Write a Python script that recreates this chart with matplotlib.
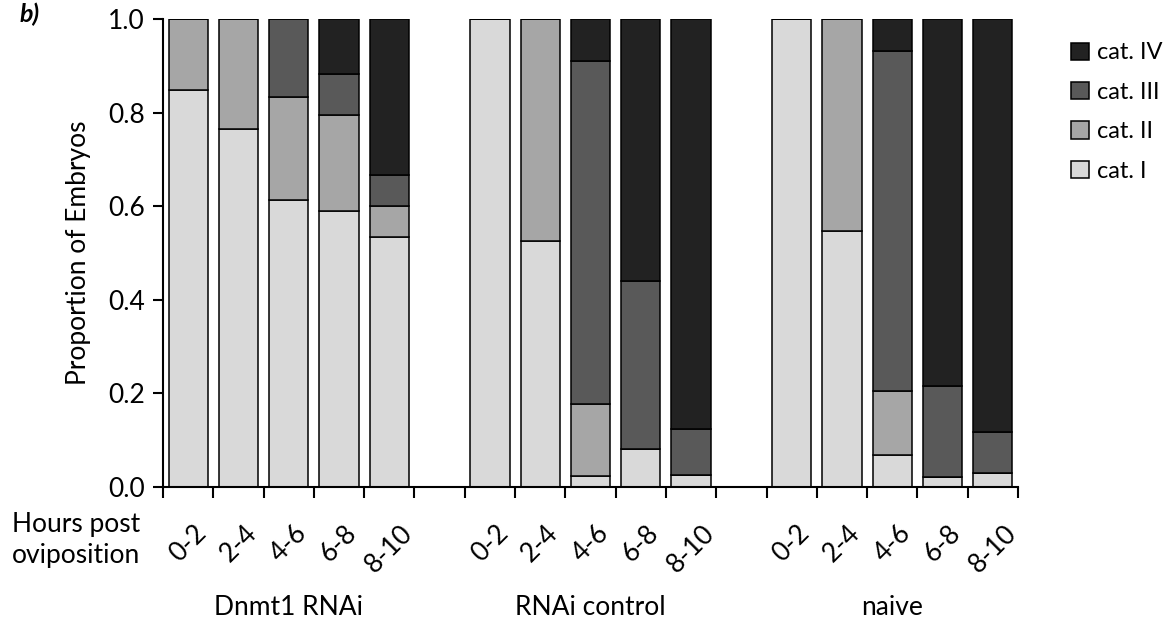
import matplotlib.pyplot as plt
import matplotlib.transforms as mtransforms
import numpy as np

plt.rcParams['font.family'] = ['Lato', 'DejaVu Sans']

groups = ["Dnmt1 RNAi", "RNAi control", "naive"]
hours = ["0-2", "2-4", "4-6", "6-8", "8-10"]
categories = ["cat. I", "cat. II", "cat. III", "cat. IV"]
colors = ["#d9d9d9", "#a6a6a6", "#595959", "#222222"]

# proportions per bar (groups x hours), one array per category
cat1 = [0.848, 0.765, 0.613, 0.590, 0.534,
        1.000, 0.526, 0.024, 0.081, 0.026,
        1.000, 0.548, 0.068, 0.021, 0.030]
cat2 = [0.152, 0.235, 0.220, 0.205, 0.066,
        0.000, 0.474, 0.153, 0.000, 0.000,
        0.000, 0.452, 0.137, 0.000, 0.000]
cat3 = [0.000, 0.000, 0.167, 0.087, 0.067,
        0.000, 0.000, 0.734, 0.359, 0.099,
        0.000, 0.000, 0.727, 0.195, 0.088]
cat4 = [0.000, 0.000, 0.000, 0.118, 0.333,
        0.000, 0.000, 0.089, 0.560, 0.875,
        0.000, 0.000, 0.068, 0.784, 0.882]

values = np.array([cat1, cat2, cat3, cat4])
fs = 19

# bar slots: 5 bars, 1 empty slot, 5 bars, ...
slots = np.array([g * 6 + i for g in range(len(groups)) for i in range(len(hours))])
xpos = slots + 0.5

fig = plt.figure(figsize=(11.73, 6.29), dpi=100)
ax = fig.add_axes([163 / 1173, 1 - 487 / 629, 855 / 1173, 468 / 629])

bottom = np.zeros(len(xpos))
handles = []
for vals, col, lab in zip(values, colors, categories):
    b = ax.bar(xpos, vals, width=0.78, bottom=bottom, color=col,
               edgecolor="black", linewidth=1.1, label=lab)
    handles.append(b)
    bottom += vals

ax.set_xlim(0, 17)
ax.set_ylim(0, 1.0)
ax.spines["top"].set_visible(False)
ax.spines["right"].set_visible(False)
ax.spines["left"].set_linewidth(1.5)
ax.spines["bottom"].set_linewidth(1.5)

ax.set_yticks(np.arange(0, 1.01, 0.2))
ax.set_yticklabels(["%.1f" % v for v in np.arange(0, 1.01, 0.2)], fontsize=fs)
ax.tick_params(axis="y", direction="out", length=7, width=1.5, pad=6)

# major ticks at slot boundaries, labels on minor ticks at bar centres
ax.set_xticks(np.arange(0, 18))
ax.set_xticklabels([])
ax.tick_params(axis="x", which="major", direction="out", length=8, width=1.5)
ax.set_xticks(xpos, minor=True)
ax.set_xticklabels(hours * len(groups), minor=True, rotation=45, fontsize=fs,
                   ha="center", va="top")
ax.tick_params(axis="x", which="minor", length=0, pad=24)

ax.set_ylabel("Proportion of Embryos", fontsize=fs, labelpad=12)

trans = mtransforms.blended_transform_factory(ax.transData, ax.transAxes)
for g, name in enumerate(groups):
    ax.text(g * 6 + 2.5, -0.258, name, transform=trans, fontsize=fs,
            ha="center", va="center")

fig.text(140 / 1173, 1 - 540 / 629, "Hours post\noviposition", fontsize=fs,
         ha="right", va="center", linespacing=1.3)

fig.text(20 / 1173, 1 - 3 / 629, "b)", fontsize=18, fontweight="bold",
         fontstyle="italic", ha="left", va="top")

leg = ax.legend(handles[::-1], categories[::-1], loc="upper left",
                bbox_to_anchor=(1062 / 1173, 1 - 33 / 629),
                bbox_transform=fig.transFigure, frameon=False, fontsize=17,
                handlelength=0.75, handleheight=0.75, handletextpad=0.35,
                labelspacing=0.78, borderaxespad=0)

fig.savefig("out.png", dpi=100)
